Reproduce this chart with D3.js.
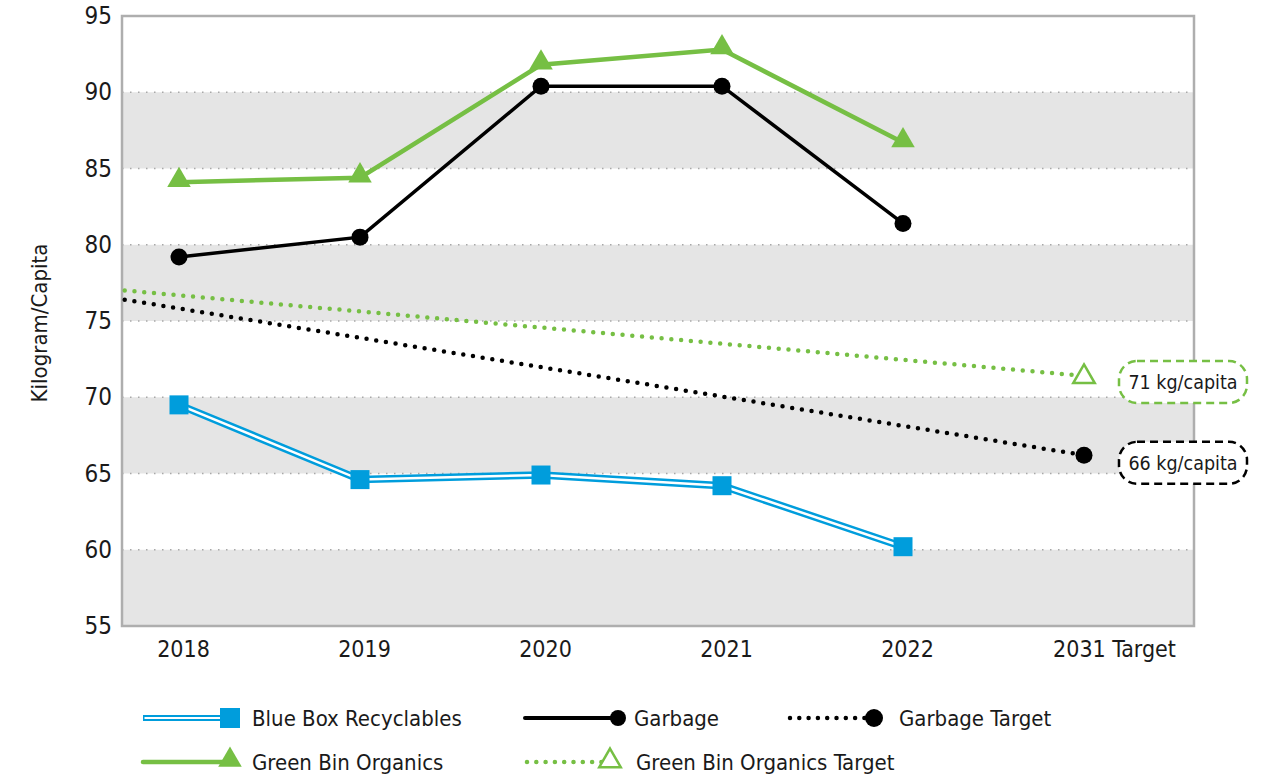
<!DOCTYPE html>
<html>
<head>
<meta charset="utf-8">
<script src="https://cdn.jsdelivr.net/npm/d3@7"></script>
<style>
  body { margin: 0; background: #fff; }
  svg text { font-family: "Liberation Sans Narrow", "DejaVu Sans Condensed", "Roboto", sans-serif; fill: #1a1a1a; }
</style>
</head>
<body>
<svg width="1271" height="778"></svg>
<script>
// chart data
var years = ["2018", "2019", "2020", "2021", "2022", "2031 Target"];
var blueBox = [69.5, 64.6, 64.9, 64.2, 60.2];
var garbage = [79.2, 80.5, 90.4, 90.4, 81.4];
var greenBin = [84.1, 84.4, 91.8, 92.8, 86.7];
// targets: start at the axis (index -0.3) and end at 2031
var garbageTarget = [{i: -0.3, v: 76.4}, {i: 5, v: 66.2}];
var greenTarget = [{i: -0.3, v: 77.0}, {i: 5, v: 71.4}];
var yTicks = [55, 60, 65, 70, 75, 80, 85, 90, 95];

var blue = "#009ddc", green = "#76bf44", black = "#000";

var svg = d3.select("svg"),
    margin = {top: 16, right: 77, bottom: 152, left: 122},
    width = +svg.attr("width") - margin.left - margin.right,
    height = +svg.attr("height") - margin.top - margin.bottom;

var y = d3.scaleLinear().domain([55, 95]).range([height, 0]);
var x = d3.scalePoint().domain(years).range([57, 962]);
var xi = d3.scaleLinear().domain([0, years.length - 1]).range([x(years[0]), x(years[years.length - 1])]);

var g = svg.append("g")
    .attr("transform", "translate(" + margin.left + "," + margin.top + ")");

// grey bands
var bands = [[55, 60], [65, 70], [75, 80], [85, 90]];
g.selectAll(".band")
  .data(bands)
  .enter().append("rect")
    .attr("x", 0)
    .attr("width", width)
    .attr("y", function(d) { return y(d[1]); })
    .attr("height", function(d) { return y(d[0]) - y(d[1]); })
    .attr("fill", "#e5e5e5");

// dotted grid
g.selectAll(".grid")
  .data(yTicks.filter(function(t) { return t > 55 && t < 95; }))
  .enter().append("line")
    .attr("x1", 0).attr("x2", width)
    .attr("y1", function(d) { return y(d); })
    .attr("y2", function(d) { return y(d); })
    .attr("stroke", "#a8a8a8")
    .attr("stroke-width", 1.5)
    .attr("stroke-dasharray", "1.5,6.5");

// frame
g.append("rect")
  .attr("width", width).attr("height", height)
  .attr("fill", "none").attr("stroke", "#aeaeae").attr("stroke-width", 2.5);

// y axis
g.append("g")
  .call(d3.axisLeft(y).tickValues(yTicks).tickSize(0).tickPadding(10))
  .call(function(a) { a.select(".domain").remove(); })
  .selectAll("text").attr("font-size", 24);

svg.append("text")
  .attr("transform", "translate(47," + (margin.top + height / 2 + 2) + ") rotate(-90)")
  .attr("text-anchor", "middle")
  .attr("font-size", 22)
  .text("Kilogram/Capita");

// x axis
g.append("g")
  .attr("transform", "translate(0," + height + ")")
  .call(d3.axisBottom(x).tickSize(0).tickPadding(15))
  .call(function(a) { a.select(".domain").remove(); })
  .selectAll("text")
    .attr("font-size", 23)
    .attr("dx", function(d) { return d === "2031 Target" ? 30 : 4; });

var line = d3.line()
  .x(function(d, i) { return x(years[i]); })
  .y(function(d) { return y(d); });
var tline = d3.line()
  .x(function(d) { return xi(d.i); })
  .y(function(d) { return y(d.v); });

// targets
g.append("path").datum(greenTarget).attr("d", tline)
  .attr("fill", "none").attr("stroke", green).attr("stroke-width", 4.5)
  .attr("stroke-linecap", "round").attr("stroke-dasharray", "0,9.8");
g.append("path").datum(garbageTarget).attr("d", tline)
  .attr("fill", "none").attr("stroke", black).attr("stroke-width", 4.5)
  .attr("stroke-linecap", "round").attr("stroke-dasharray", "0,9.8");

var tri = d3.symbol().type(d3.symbolTriangle).size(240);
var triOpen = d3.symbol().type(d3.symbolTriangle).size(200);

g.append("path")
  .attr("d", triOpen)
  .attr("transform", "translate(" + xi(greenTarget[1].i) + "," + (y(greenTarget[1].v) + 1) + ")")
  .attr("fill", "#fff").attr("stroke", green).attr("stroke-width", 2.5);
g.append("circle")
  .attr("cx", xi(garbageTarget[1].i)).attr("cy", y(garbageTarget[1].v)).attr("r", 8.5)
  .attr("fill", black);

// blue box (double line)
g.append("path").datum(blueBox).attr("d", line)
  .attr("fill", "none").attr("stroke", blue).attr("stroke-width", 7.5);
g.append("path").datum(blueBox).attr("d", line)
  .attr("fill", "none").attr("stroke", "#fff").attr("stroke-width", 2.5);
g.selectAll(".sq")
  .data(blueBox)
  .enter().append("rect")
    .attr("x", function(d, i) { return x(years[i]) - 9.5; })
    .attr("y", function(d) { return y(d) - 9.5; })
    .attr("width", 19).attr("height", 19)
    .attr("fill", blue);

// garbage
g.append("path").datum(garbage).attr("d", line)
  .attr("fill", "none").attr("stroke", black).attr("stroke-width", 3.5);
g.selectAll(".dot")
  .data(garbage)
  .enter().append("circle")
    .attr("cx", function(d, i) { return x(years[i]); })
    .attr("cy", function(d) { return y(d); })
    .attr("r", 8.5).attr("fill", black);

// green bin
g.append("path").datum(greenBin).attr("d", line)
  .attr("fill", "none").attr("stroke", green).attr("stroke-width", 4.5);
g.selectAll(".tri")
  .data(greenBin)
  .enter().append("path")
    .attr("d", tri)
    .attr("transform", function(d, i) { return "translate(" + x(years[i]) + "," + (y(d) - 2) + ")"; })
    .attr("fill", green);

// target labels
var tlabels = [
  {text: "71 kg/capita", v: 71.0, color: green},
  {text: "66 kg/capita", v: 65.7, color: black}
];
var lab = g.selectAll(".tl")
  .data(tlabels)
  .enter().append("g")
    .attr("transform", function(d) { return "translate(" + (width - 75) + "," + y(d.v) + ")"; });
lab.append("rect")
  .attr("x", 0).attr("y", -21).attr("width", 128).attr("height", 42).attr("rx", 18)
  .attr("fill", "#fff").attr("stroke", function(d) { return d.color; })
  .attr("stroke-width", 2.5).attr("stroke-dasharray", "8,5");
lab.append("text")
  .attr("x", 64).attr("y", 7).attr("text-anchor", "middle")
  .attr("font-size", 19.5)
  .text(function(d) { return d.text; });

// legend
var legend = [
  {name: "Blue Box Recyclables", x: 143, y: 718, type: "double", color: blue, mark: "square"},
  {name: "Garbage", x: 525, y: 718, type: "solid", color: black, mark: "circle"},
  {name: "Garbage Target", x: 790, y: 718, type: "dots", color: black, mark: "bigcircle"},
  {name: "Green Bin Organics", x: 143, y: 762, type: "solid", color: green, mark: "tri"},
  {name: "Green Bin Organics Target", x: 527, y: 762, type: "dots", color: green, mark: "opentri"}
];
var lg = svg.selectAll(".lg")
  .data(legend)
  .enter().append("g")
    .attr("transform", function(d) { return "translate(" + d.x + "," + d.y + ")"; });
lg.each(function(d) {
  var s = d3.select(this);
  var len = d.type === "dots" ? 84 : 88;
  if (d.type === "double") {
    s.append("line").attr("x1", 0).attr("x2", len).attr("stroke", d.color).attr("stroke-width", 6);
    s.append("line").attr("x1", 1.5).attr("x2", len).attr("stroke", "#fff").attr("stroke-width", 2);
  } else if (d.type === "solid") {
    s.append("line").attr("x1", 0).attr("x2", len).attr("stroke", d.color)
      .attr("stroke-width", d.color === green ? 4.5 : 4).attr("stroke-linecap", "round");
  } else {
    s.append("line").attr("x1", 0).attr("x2", len).attr("stroke", d.color).attr("stroke-width", 4.5)
      .attr("stroke-linecap", "round").attr("stroke-dasharray", "0,9.3");
  }
  if (d.mark === "square") {
    s.append("rect").attr("x", len - 11).attr("y", -10).attr("width", 20).attr("height", 20).attr("fill", d.color);
  } else if (d.mark === "circle") {
    s.append("circle").attr("cx", len + 5).attr("r", 8).attr("fill", d.color);
  } else if (d.mark === "bigcircle") {
    s.append("circle").attr("cx", len).attr("r", 9).attr("fill", d.color);
  } else if (d.mark === "tri") {
    s.append("path").attr("d", tri).attr("transform", "translate(" + (len - 1) + ",-2)").attr("fill", d.color);
  } else {
    s.append("path").attr("d", triOpen).attr("transform", "translate(" + (len - 1) + ",-1)")
      .attr("fill", "#fff").attr("stroke", d.color).attr("stroke-width", 2.5);
  }
  s.append("text").attr("x", 109).attr("y", 8).attr("font-size", 22).text(d.name);
});
</script>
</body>
</html>
